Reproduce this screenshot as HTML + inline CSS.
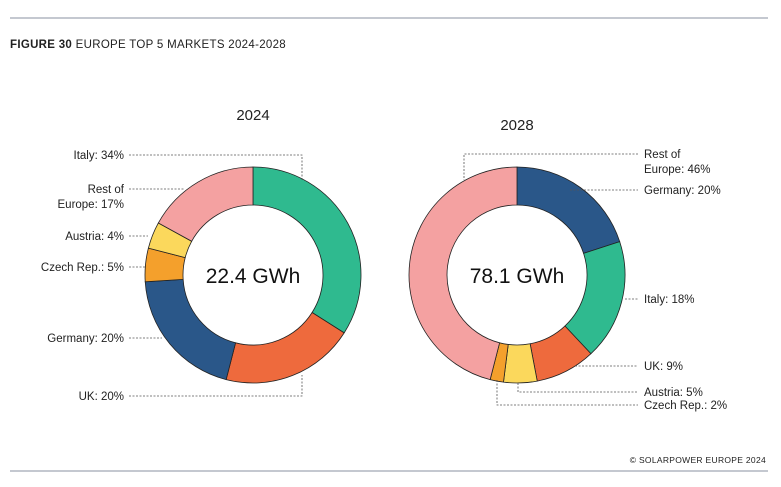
<!DOCTYPE html>
<html><head><meta charset="utf-8"><style>
html,body{margin:0;padding:0;background:#fff;}
svg{display:block;font-family:"Liberation Sans",sans-serif;}
</style></head><body>
<svg id="s" width="781" height="487" viewBox="0 0 781 487" xmlns="http://www.w3.org/2000/svg">
<line x1="10" y1="18" x2="768" y2="18" stroke="#8a90a0" stroke-width="1"/>
<line x1="10" y1="471" x2="768" y2="471" stroke="#8a90a0" stroke-width="1"/>
<text x="10" y="48" font-size="11.5" fill="#222" letter-spacing="0.3"><tspan font-weight="bold">FIGURE 30</tspan> EUROPE TOP 5 MARKETS 2024-2028</text>
<text x="766" y="463" font-size="8.5" fill="#222" text-anchor="end" letter-spacing="0.3">© SOLARPOWER EUROPE 2024</text>
<text x="253" y="120" font-size="15" fill="#222" text-anchor="middle">2024</text>
<text x="517" y="130" font-size="15" fill="#222" text-anchor="middle">2028</text>
<g id="d1"></g><g id="d2"></g>
<text x="253" y="283" font-size="21" fill="#111" text-anchor="middle">22.4 GWh</text>
<text x="517" y="283" font-size="21" fill="#111" text-anchor="middle">78.1 GWh</text>
<g stroke="#555" stroke-width="0.8" stroke-dasharray="2,1.5" fill="none">
<polyline points="129,155 302,155 302,180"/>
<line x1="129" y1="189" x2="185" y2="189"/>
<line x1="129" y1="236" x2="148" y2="236"/>
<line x1="129" y1="267" x2="145" y2="267"/>
<line x1="129" y1="338" x2="162" y2="338"/>
<polyline points="129,396 302,396 302,375"/>
<polyline points="638,154 464,154 464,180"/>
<line x1="570" y1="190" x2="638" y2="190"/>
<line x1="625" y1="299" x2="638" y2="299"/>
<line x1="575" y1="366" x2="638" y2="366"/>
<polyline points="518,383 518,392 638,392"/>
<polyline points="497,380 497,405 638,405"/>
</g>
<g font-size="11.5" fill="#222" text-anchor="end">
<text x="124" y="159">Italy: 34%</text>
<text x="124" y="193">Rest of</text>
<text x="124" y="208">Europe: 17%</text>
<text x="124" y="240">Austria: 4%</text>
<text x="124" y="271">Czech Rep.: 5%</text>
<text x="124" y="342">Germany: 20%</text>
<text x="124" y="400">UK: 20%</text>
</g>
<g font-size="11.5" fill="#222">
<text x="644" y="158">Rest of</text>
<text x="644" y="173">Europe: 46%</text>
<text x="644" y="194">Germany: 20%</text>
<text x="644" y="303">Italy: 18%</text>
<text x="644" y="370">UK: 9%</text>
<text x="644" y="396">Austria: 5%</text>
<text x="644" y="409">Czech Rep.: 2%</text>
</g>
</svg>
<script>
var C={it:"#2fba8f",uk:"#ee6a3d",de:"#2a5789",cz:"#f4a02c",at:"#fbd85c",re:"#f4a1a1"};
function donut(id,cx,cy,R,r,data){
 var g=document.getElementById(id),a=0,h="";
 data.forEach(function(d){
  var a0=a*2*Math.PI/100,a1=(a+d[1])*2*Math.PI/100;a+=d[1];
  function p(rr,t){return [cx+rr*Math.sin(t),cy-rr*Math.cos(t)];}
  var L=(a1-a0)>Math.PI?1:0,P1=p(R,a0),P2=p(R,a1),P3=p(r,a1),P4=p(r,a0);
  h+='<path d="M'+P1+' A'+R+','+R+' 0 '+L+' 1 '+P2+' L'+P3+' A'+r+','+r+' 0 '+L+' 0 '+P4+' Z" fill="'+C[d[0]]+'" stroke="#222" stroke-width="0.8"/>';
 });
 g.innerHTML=h;
}
donut("d1",253,275,108,70,[["it",34],["uk",20],["de",20],["cz",5],["at",4],["re",17]]);
donut("d2",517,275,108,70,[["de",20],["it",18],["uk",9],["at",5],["cz",2],["re",46]]);
</script>
</body></html>
